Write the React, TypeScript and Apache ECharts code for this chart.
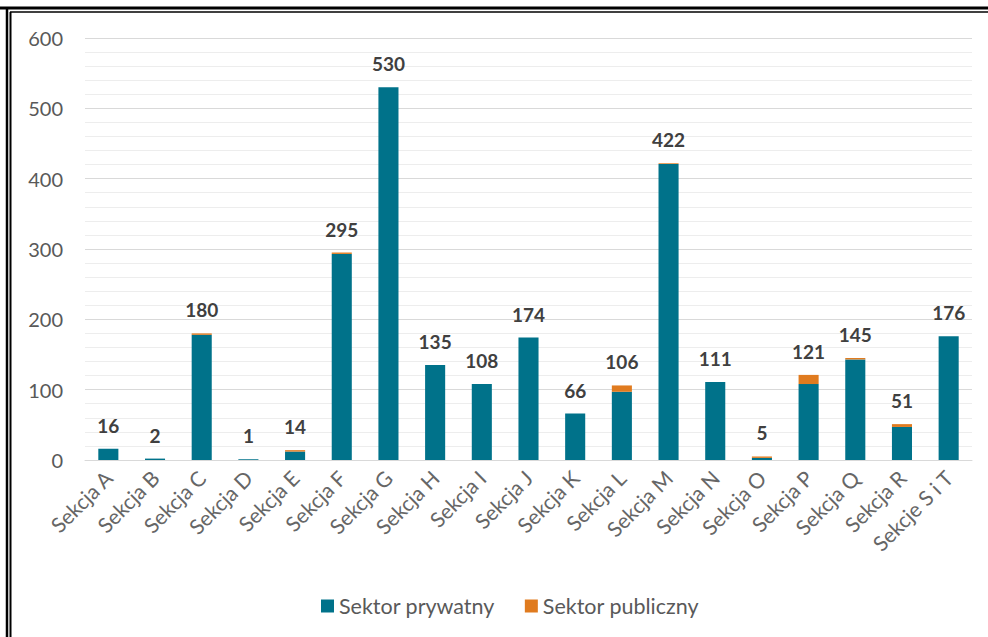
import React, { useEffect, useRef } from "react";
import * as echarts from "echarts";

const categories = [
  "Sekcja A", "Sekcja B", "Sekcja C", "Sekcja D", "Sekcja E", "Sekcja F", "Sekcja G",
  "Sekcja H", "Sekcja I", "Sekcja J", "Sekcja K", "Sekcja L", "Sekcja M", "Sekcja N",
  "Sekcja O", "Sekcja P", "Sekcja Q", "Sekcja R", "Sekcje S i T",
];
const privateSector = [16, 2, 178, 1, 12, 293, 530, 135, 108, 174, 66, 97, 421, 111, 3, 108, 143, 47, 176];
const publicSector = [0, 0, 2, 0, 2, 2, 0, 0, 0, 0, 0, 9, 1, 0, 2, 13, 2, 4, 0];
const totals = [16, 2, 180, 1, 14, 295, 530, 135, 108, 174, 66, 106, 422, 111, 5, 121, 145, 51, 176];

const FONT = "Lato, 'Open Sans', sans-serif";

export default function App() {
  const ref = useRef<HTMLDivElement>(null);
  useEffect(() => {
    if (!ref.current) return;
    const chart = echarts.init(ref.current, null, { renderer: "svg" });
    chart.setOption({
      animation: false,
      backgroundColor: "#ffffff",
      textStyle: { fontFamily: FONT },
      graphic: [
        { type: "line", shape: { x1: 0, y1: 8, x2: 988, y2: 8 }, style: { stroke: "#000", lineWidth: 3 } },
        { type: "line", shape: { x1: 10, y1: 12, x2: 988, y2: 12 }, style: { stroke: "#000", lineWidth: 1.5 } },
        { type: "line", shape: { x1: 7, y1: 7, x2: 7, y2: 637 }, style: { stroke: "#000", lineWidth: 2.5 } },
        { type: "line", shape: { x1: 10.5, y1: 12, x2: 10.5, y2: 637 }, style: { stroke: "#000", lineWidth: 2 } },
      ],
      grid: { left: 85, right: 16, top: 38, bottom: 177 },
      legend: {
        left: 316,
        top: 590,
        itemWidth: 13,
        itemHeight: 13,
        itemGap: 30,
        icon: "rect",
        textStyle: { color: "#595959", fontSize: 21.5, fontFamily: FONT },
        data: ["Sektor prywatny", "Sektor publiczny"],
      },
      xAxis: {
        type: "category",
        data: categories,
        axisLine: { lineStyle: { color: "#d9d9d9" } },
        axisTick: { show: false },
        axisLabel: {
          rotate: 45,
          interval: 0,
          color: "#666666",
          fontSize: 21,
          margin: 14,
          fontFamily: FONT,
        },
      },
      yAxis: {
        type: "value",
        min: 0,
        max: 600,
        interval: 100,
        axisLine: { show: false },
        axisTick: { show: false },
        axisLabel: { color: "#595959", fontSize: 20, margin: 22, fontFamily: FONT },
        splitLine: { lineStyle: { color: "#d9d9d9", width: 1 } },
        minorTick: { show: false, splitNumber: 5 },
        minorSplitLine: { show: true, lineStyle: { color: "#ededed", width: 1 } },
      },
      series: [
        {
          name: "Sektor prywatny",
          type: "bar",
          stack: "s",
          data: privateSector,
          barWidth: "43%",
          itemStyle: { color: "#00728a" },
        },
        {
          name: "Sektor publiczny",
          type: "bar",
          stack: "s",
          data: publicSector,
          barWidth: "43%",
          itemStyle: { color: "#e07b1f" },
          label: {
            show: true,
            position: "top",
            distance: 14,
            color: "#404040",
            fontSize: 19,
            fontWeight: "bold",
            fontFamily: FONT,
            formatter: (p: any) => String(totals[p.dataIndex]),
          },
        },
      ],
    });
    return () => chart.dispose();
  }, []);
  return <div ref={ref} style={{ position: "absolute", left: 0, top: 0, width: 988, height: 637 }} />;
}
